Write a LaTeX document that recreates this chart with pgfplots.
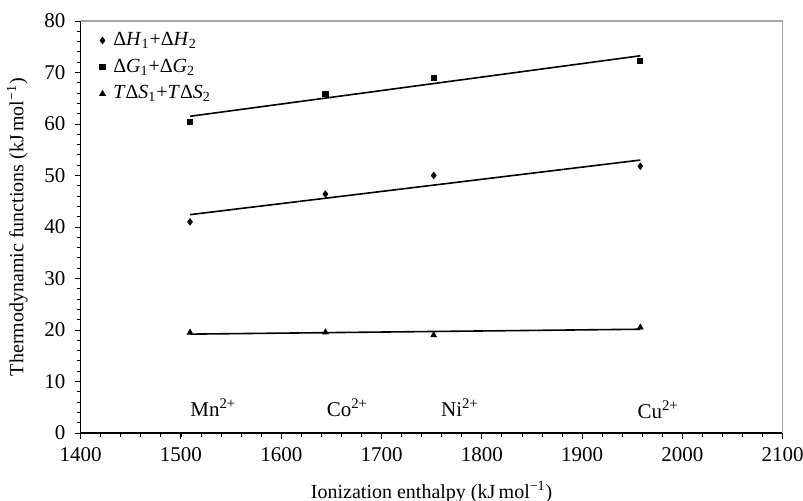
\documentclass[border=0pt]{standalone}
\usepackage{fontspec}
\setmainfont{Liberation Serif}
\usepackage{pgfplots}
\pgfplotsset{compat=1.18}
\begin{document}
\fontsize{10}{12}\selectfont
\begin{tikzpicture}
\useasboundingbox (-40.35pt,-33.5pt) rectangle (361.15pt,216.5pt);
\begin{axis}[
  at={(0,0)}, anchor=south west,
  scale only axis,
  width=351pt, height=206pt,
  xmin=1400, xmax=2100, ymin=0, ymax=80,
  xtick={1400,1500,...,2100}, ytick={0,10,...,80},
  minor xtick={1420,1440,...,2080}, minor ytick={2,4,...,78},
  tick align=outside,
  major tick length=2.8pt, minor tick length=2pt,
  every tick/.style={black, line width=0.5pt},
  every minor tick/.style={black, line width=0.45pt},
  axis x line*=bottom, axis y line*=left,
  axis line style={-, black, line width=0.6pt},
  /pgf/number format/assume math mode=true,
  /pgf/number format/1000 sep={},
  tick label style={font=\fontsize{10.5}{12}\selectfont},
  yticklabel style={xshift=-1.3pt},
  xticklabel style={yshift=-1pt},
  label style={font=\fontsize{10}{12}\selectfont},
  xlabel={Ionization enthalpy (kJ\,mol\textsuperscript{−1})},
  ylabel={Thermodynamic functions (kJ\,mol\textsuperscript{−1})},
  xlabel style={yshift=-3pt},
  ylabel style={yshift=1.5pt},
  legend style={draw=none, fill=none, at={(rel axis cs:0,1)}, anchor=north west,
    xshift=8pt, yshift=-3.5pt,
    font=\fontsize{10}{12}\selectfont, row sep=1.2pt, inner sep=0pt},
  legend image code/.code={\draw[#1] plot coordinates {(0pt,0pt)}; \path (-2.5pt,0pt) (3.2pt,0pt);},
  legend cell align=left,
  clip=false,
]
\draw[gray!70, line width=0.6pt] (rel axis cs:0,1) -- (rel axis cs:1,1) -- (rel axis cs:1,0);
\addplot[only marks, mark=diamond*, mark size=1.6pt, black] coordinates {
 (1509,41.0) (1644,46.4) (1752,50.0) (1958,51.8)};
\addlegendentry{Δ\textit{H}\textsubscript{1}+Δ\textit{H}\textsubscript{2}}
\addplot[only marks, mark=square*, mark size=1.3pt, black] coordinates {
 (1509,60.45) (1644,65.9) (1752,69.0) (1958,72.3)};
\addlegendentry{Δ\textit{G}\textsubscript{1}+Δ\textit{G}\textsubscript{2}}
\addplot[only marks, mark=triangle*, mark size=1.6pt, black] coordinates {
 (1509,19.5) (1644,19.55) (1752,19.0) (1958,20.5)};
\addlegendentry{\textit{T}Δ\textit{S}\textsubscript{1}+\textit{T}Δ\textit{S}\textsubscript{2}}
\addplot[black, line width=0.8pt, forget plot] coordinates {(1509,42.4) (1958,53.0)};
\addplot[black, line width=0.8pt, forget plot] coordinates {(1509,61.5) (1958,73.25)};
\addplot[black, line width=0.8pt, forget plot] coordinates {(1509,19.2) (1958,20.15)};
\node[anchor=base west, inner sep=0pt, font=\fontsize{10.5}{12}\selectfont] at (axis cs:1509,3.3) {Mn\textsuperscript{2+}};
\node[anchor=base west, inner sep=0pt, font=\fontsize{10.5}{12}\selectfont] at (axis cs:1645,3.3) {Co\textsuperscript{2+}};
\node[anchor=base west, inner sep=0pt, font=\fontsize{10.5}{12}\selectfont] at (axis cs:1759,3.3) {Ni\textsuperscript{2+}};
\node[anchor=base west, inner sep=0pt, font=\fontsize{10.5}{12}\selectfont] at (axis cs:1955,2.8) {Cu\textsuperscript{2+}};
\end{axis}
\end{tikzpicture}
\end{document}
